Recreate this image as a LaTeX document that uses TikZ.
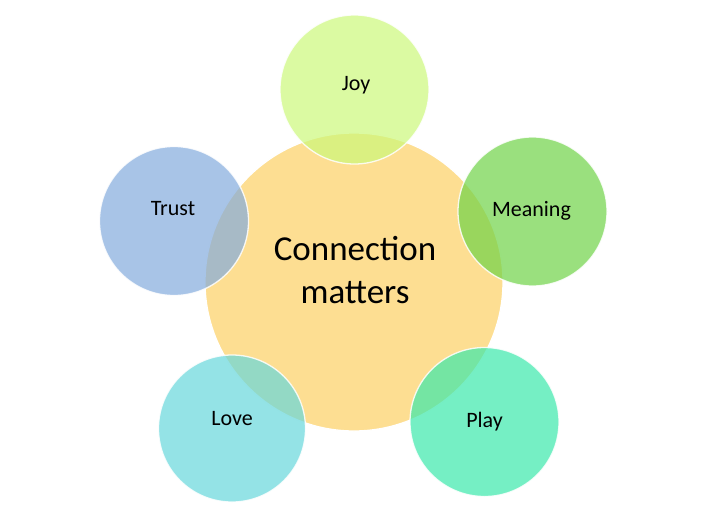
\documentclass[tikz,border=0pt]{standalone}
\usepackage{fontspec}
\setmainfont{Carlito}
\definecolor{orangeC}{RGB}{253,222,146}
\definecolor{joyC}{RGB}{204,248,122}
\definecolor{meanC}{RGB}{111,211,71}
\definecolor{trustC}{RGB}{131,171,221}
\definecolor{loveC}{RGB}{102,215,219}
\definecolor{playC}{RGB}{59,232,171}
\begin{document}
\begin{tikzpicture}[x=1pt,y=-1pt,
  bubble/.style={circle, draw=white, draw opacity=0.85, line width=1.3pt, inner sep=0pt,
    fill=#1, fill opacity=0.7, minimum size=149pt},
  lbl/.style={anchor=base, font=\fontsize{22}{26}\selectfont, text=black},
  bigtext/.style={align=center, font=\fontsize{35}{43}\selectfont, text=black, inner sep=0pt}]
\useasboundingbox (0,0) rectangle (720,517);
\node[circle, fill=orangeC, draw=white, line width=1.3pt, inner sep=0pt, minimum size=298pt] (hub) at (354,282) {};
\node[bubble=joyC] (joy) at (354.5,89.5) {};
\node[bubble=meanC] (meaning) at (532.5,211.5) {};
\node[bubble=trustC] (trust) at (174,221) {};
\node[bubble=loveC, minimum size=147pt] (love) at (232,428.5) {};
\node[bubble=playC] (play) at (484.5,422) {};
\node[bigtext] (hubtext) at (355,270.5) {Connection\\matters};
\node[lbl] (joyt) at (356,90) {Joy};
\node[lbl] (meaningt) at (531.5,216) {Meaning};
\node[lbl] (trustt) at (173,215) {Trust};
\node[lbl] (lovet) at (232,425) {Love};
\node[lbl] (playt) at (484.5,427) {Play};
\end{tikzpicture}
\end{document}
